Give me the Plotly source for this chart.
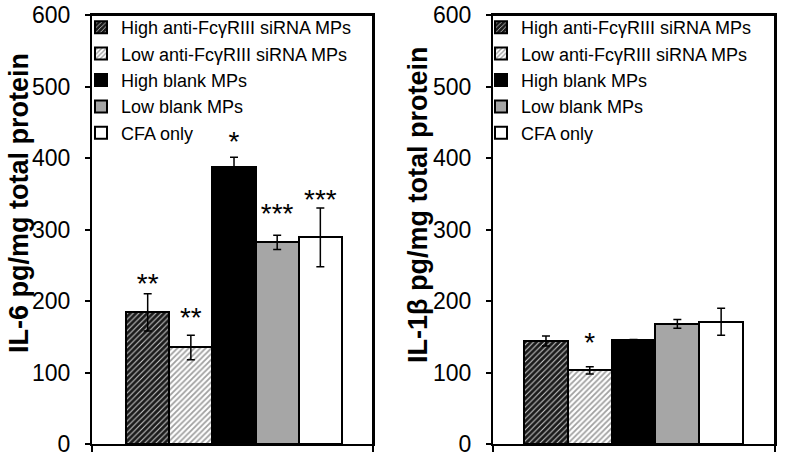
import plotly.graph_objects as go

# ---------------- data ----------------
groups = ["High anti-FcγRIII siRNA MPs", "Low anti-FcγRIII siRNA MPs",
          "High blank MPs", "Low blank MPs", "CFA only"]

il6_values = [184, 135, 388, 282, 289]
il6_errors = [26, 17, 13, 10, 41]
il6_stars = ["**", "**", "*", "***", "***"]
il6_star_y = [221, 174, 420, 319, 339]

il1b_values = [144, 103, 145, 168, 171]
il1b_errors = [7, 5, 1, 6, 19]
il1b_stars = ["", "*", "", "", ""]
il1b_star_y = [0, 139, 0, 0, 0]

y_ticks = [0, 100, 200, 300, 400, 500, 600]

# ---------------- styles ----------------
FONT = "Arial, Liberation Sans, sans-serif"
styles = [
    dict(color="#222222", pattern=dict(shape="/", bgcolor="#1a1a1a", fgcolor="#cfcfcf",
                                        size=4, solidity=0.25, fillmode="replace")),
    dict(color="#ffffff", pattern=dict(shape="/", bgcolor="#ffffff", fgcolor="#a0a0a0",
                                        size=4, solidity=0.45, fillmode="replace")),
    dict(color="#000000"),
    dict(color="#a6a6a6"),
    dict(color="#ffffff"),
]

W, H = 785, 461
ML, MR, MT, MB = 92, 10, 15, 17
PW = W - ML - MR
PH = H - MT - MB


def px_x(px):  # pixel -> paper x
    return (px - ML) / PW


def px_y(py):  # pixel -> paper y
    return (H - MB - py) / PH


fig = go.Figure()

panels = [
    ("x", "y", "legend", il6_values, il6_errors, il6_stars, il6_star_y),
    ("x2", "y2", "legend2", il1b_values, il1b_errors, il1b_stars, il1b_star_y),
]

for xa, ya, leg, vals, errs, stars, stary in panels:
    for i, (g, v, e) in enumerate(zip(groups, vals, errs)):
        st = styles[i]
        marker = dict(color=st["color"], line=dict(color="black", width=2))
        if "pattern" in st:
            marker["pattern"] = st["pattern"]
        fig.add_trace(go.Bar(
            x=[i], y=[v], name=g, width=1.0,
            marker=marker,
            error_y=dict(type="data", array=[e], visible=True,
                         color="black", thickness=1.5, width=4),
            xaxis=xa, yaxis=ya, legend=leg, showlegend=True,
        ))
    sx = [i for i, s in enumerate(stars) if s]
    fig.add_trace(go.Scatter(
        x=sx, y=[stary[i] for i in sx], text=[stars[i] for i in sx],
        mode="text", textposition="middle center",
        textfont=dict(family=FONT, size=28, color="black"),
        xaxis=xa, yaxis=ya, showlegend=False, hoverinfo="skip",
        cliponaxis=False,
    ))

axis_common = dict(showline=True, linecolor="black", linewidth=2, mirror=True,
                   showgrid=False, zeroline=False)

left_dom = [0, px_x(373)]
right_dom = [px_x(493), 1]
left_range = [-1.29, 5.22]
right_range = [-1.21, 5.23]

ycommon = dict(range=[0, 600], tickvals=y_ticks, ticks="outside", ticklen=5,
               tickwidth=2, tickcolor="black", ticklabelstandoff=10,
               ticklabeloverflow="allow",
               tickfont=dict(family=FONT, size=23, color="black"), **axis_common)

# plot frames (top and right borders of each panel), in paper coordinates
frames = []
for dom in (left_dom, right_dom):
    frames.append(dict(type="line", xref="paper", yref="paper",
                       x0=dom[0], x1=dom[1], y0=1, y1=1,
                       line=dict(color="black", width=2), layer="above"))
    frames.append(dict(type="line", xref="paper", yref="paper",
                       x0=dom[1], x1=dom[1], y0=0, y1=1,
                       line=dict(color="black", width=2), layer="above"))

fig.update_layout(
    width=W, height=H,
    margin=dict(l=ML, r=MR, t=MT, b=MB, autoexpand=False),
    paper_bgcolor="white", plot_bgcolor="white",
    barmode="overlay", bargap=0,
    font=dict(family=FONT, color="black"),
    xaxis=dict(domain=left_dom, range=left_range, tickvals=left_range,
               ticks="outside", ticklen=6, tickwidth=2, tickcolor="black",
               showticklabels=False, **axis_common),
    xaxis2=dict(domain=right_dom, range=right_range, tickvals=right_range,
                ticks="outside", ticklen=6, tickwidth=2, tickcolor="black",
                showticklabels=False, anchor="y2", **axis_common),
    yaxis=dict(**ycommon),
    yaxis2=dict(anchor="x2", **ycommon),
    shapes=frames,
    legend=dict(x=px_x(81), y=px_y(9), xanchor="left", yanchor="top",
                bgcolor="rgba(0,0,0,0)", font=dict(family=FONT, size=18),
                tracegroupgap=0, traceorder="normal"),
    legend2=dict(x=px_x(481), y=px_y(9), xanchor="left", yanchor="top",
                 bgcolor="rgba(0,0,0,0)", font=dict(family=FONT, size=18),
                 tracegroupgap=0, traceorder="normal"),
    showlegend=True,
    annotations=[
        dict(text="<b>IL-6 pg/mg total protein</b>", xref="paper", yref="paper",
             x=px_x(19), y=px_y(203), xanchor="center", yanchor="middle",
             textangle=-90, showarrow=False, font=dict(family=FONT, size=27)),
        dict(text="<b>IL-1β pg/mg total protein</b>", xref="paper", yref="paper",
             x=px_x(418), y=px_y(205), xanchor="center", yanchor="middle",
             textangle=-90, showarrow=False, font=dict(family=FONT, size=27)),
    ],
)

fig.write_html(
    "out.html",
    config={"displayModeBar": False},
    post_script="document.body.style.margin='0';document.body.style.overflow='hidden';",
)
